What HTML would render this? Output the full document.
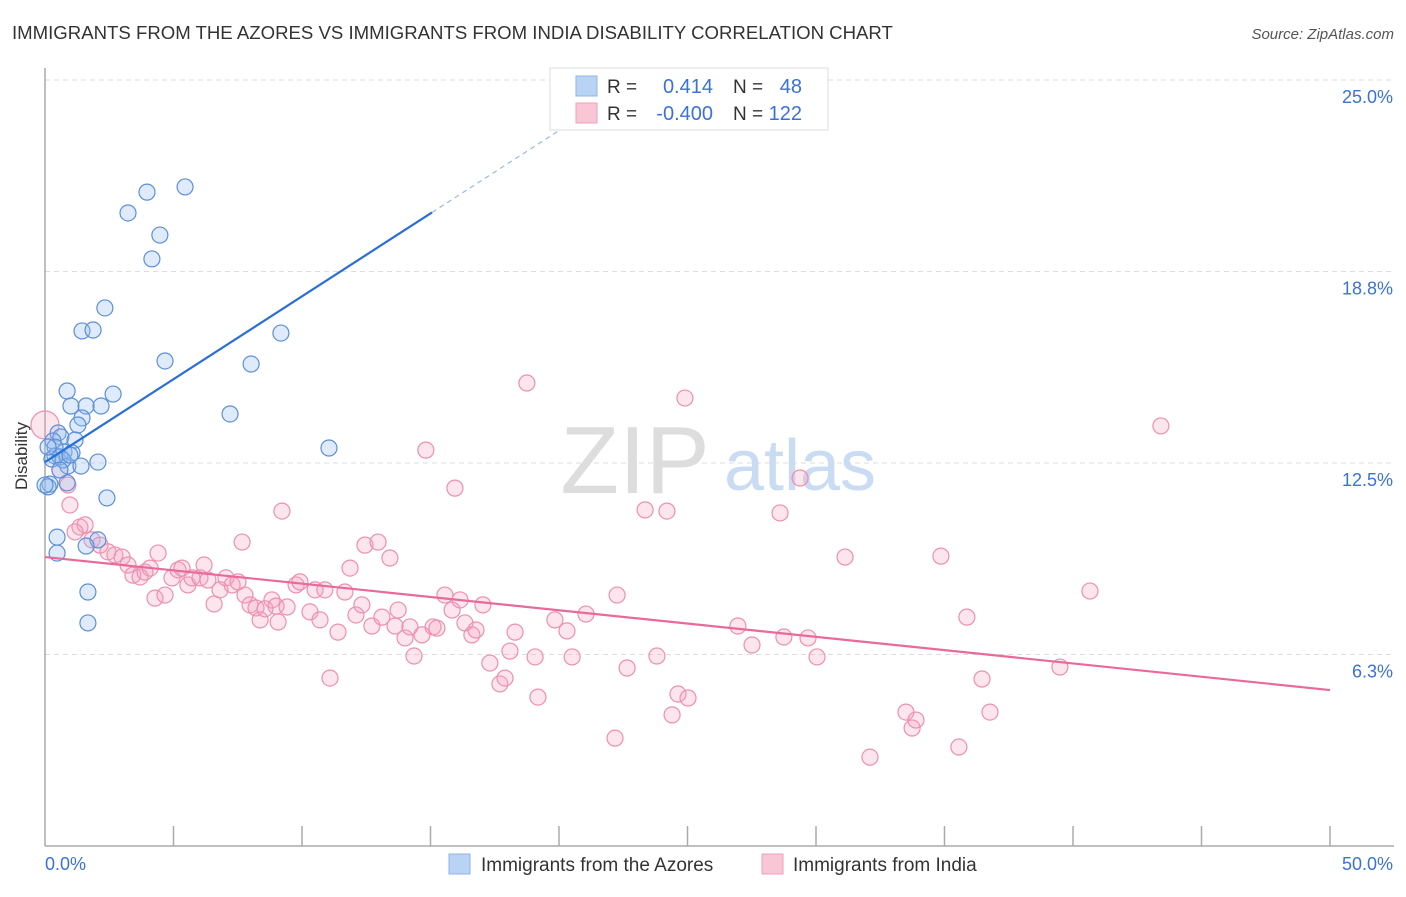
<!DOCTYPE html>
<html><head><meta charset="utf-8"><style>
body{margin:0;background:#fff;font-family:"Liberation Sans",sans-serif;}
svg text{font-family:"Liberation Sans",sans-serif;}
</style></head><body>
<svg id="chart" width="1406" height="892" viewBox="0 0 1406 892">
<text x="12" y="39" font-size="18.6" fill="#333">IMMIGRANTS FROM THE AZORES VS IMMIGRANTS FROM INDIA DISABILITY CORRELATION CHART</text>
<text x="1394" y="39" font-size="15" fill="#555" font-style="italic" text-anchor="end">Source: ZipAtlas.com</text>
<g id="grid"></g>
<text x="635" y="493" font-size="96" fill="#ddd" font-family="Liberation Serif" text-anchor="middle">ZIP</text>
<text x="800" y="490" font-size="72" fill="#c9dcf3" text-anchor="middle">atlas</text>
<g id="axes"></g>
<g id="pink"></g>
<g id="blue"></g>
<g id="lines"></g>
<text x="27" y="456" font-size="17" fill="#333" text-anchor="middle" transform="rotate(-90 27 456)">Disability</text>
<g>
<rect x="550" y="68" width="278" height="62" fill="#fff" stroke="#ddd"/>
<rect x="576" y="76" width="21" height="20" fill="#b9d3f5" stroke="#8fb3e8"/>
<rect x="576" y="103" width="21" height="20" fill="#f9c6d6" stroke="#f0a0bb"/>
<text x="607" y="93" font-size="19" fill="#333">R =</text>
<text x="713" y="93" font-size="20" fill="#3a72d8" text-anchor="end">0.414</text>
<text x="733" y="93" font-size="19" fill="#333">N =</text>
<text x="802" y="93" font-size="20" fill="#3a72d8" text-anchor="end">48</text>
<text x="607" y="120" font-size="19" fill="#333">R =</text>
<text x="713" y="120" font-size="20" fill="#3a72d8" text-anchor="end">-0.400</text>
<text x="733" y="120" font-size="19" fill="#333">N =</text>
<text x="802" y="120" font-size="20" fill="#3a72d8" text-anchor="end">122</text>
</g>
<g>
<rect x="449" y="854" width="21" height="20" fill="#b9d3f5" stroke="#8fb3e8"/>
<text x="481" y="871" font-size="19" fill="#333">Immigrants from the Azores</text>
<rect x="762" y="854" width="21" height="20" fill="#f9c6d6" stroke="#f0a0bb"/>
<text x="793" y="871" font-size="19" fill="#333">Immigrants from India</text>
</g>
</svg>
<script>
const xTickLabels = ["0.0%", "50.0%"];
const yTicks = [6.25, 12.5, 18.75, 25];
const yTickLabels = ["6.3%", "12.5%", "18.8%", "25.0%"];
const blueX = [5.45,3.97,3.23,4.47,4.16,2.33,1.44,1.87,9.18,4.67,8.02,0.86,2.65,1.01,1.60,2.18,7.20,1.44,1.28,0.51,0.62,1.17,0.31,0.74,1.05,0.39,0.58,0.89,1.40,2.06,11.05,0.19,0.12,0.86,2.41,0.47,2.06,1.60,0.47,1.67,1.67,0.27,0.70,0.39,0,0.12,0.97,0.58];
const blueY = [21.51,21.34,20.66,19.94,19.16,17.56,16.81,16.84,16.74,15.83,15.73,14.85,14.75,14.36,14.36,14.36,14.10,13.97,13.74,13.48,13.35,13.25,13.22,12.86,12.83,12.73,12.70,12.40,12.40,12.53,12.99,11.81,11.72,11.85,11.36,10.08,9.99,9.79,9.56,8.29,7.28,12.63,12.60,13.02,11.78,13.02,12.76,12.27];
const pinkX = [0,0.58,0.89,0.97,1.36,1.56,1.17,1.83,2.14,2.45,2.72,3.00,3.23,3.42,3.70,3.89,4.09,4.28,4.40,4.67,4.94,5.18,5.33,5.56,5.72,6.03,6.19,6.34,6.58,6.81,7.04,7.28,7.51,7.67,7.78,7.98,8.21,8.37,8.56,8.83,8.99,9.07,9.22,9.42,9.77,9.92,10.31,10.51,10.70,10.89,11.09,11.40,11.67,11.87,12.10,12.33,12.45,12.72,12.96,13.11,13.42,13.62,13.74,14.01,14.20,14.36,14.67,14.82,15.10,15.25,15.56,15.84,15.95,16.15,16.34,16.61,16.77,17.04,17.31,17.70,17.90,18.09,18.29,18.75,19.07,19.18,19.84,20.31,20.51,21.05,22.18,22.26,22.65,23.35,23.81,24.20,24.40,24.63,24.90,25.02,26.96,27.51,28.60,28.75,29.38,29.69,30.04,31.13,32.10,33.50,33.74,33.89,34.86,35.56,35.87,36.46,36.77,39.49,40.66,43.42];
const pinkY = [13.74,12.27,11.78,11.13,10.41,10.48,10.25,9.99,9.82,9.60,9.50,9.43,9.17,8.84,8.78,8.94,9.07,8.09,9.56,8.19,8.75,9.01,9.07,8.52,8.75,8.75,9.17,8.68,7.90,8.36,8.75,8.52,8.62,9.92,8.19,7.87,7.77,7.38,7.74,8.03,7.83,7.31,10.93,7.80,8.52,8.62,7.64,8.36,7.38,8.36,5.48,6.98,8.29,9.07,7.54,7.87,9.82,7.18,9.92,7.47,9.40,7.18,7.70,6.79,7.15,6.20,6.89,12.92,7.15,7.11,8.19,7.70,11.68,8.03,7.28,6.89,7.05,7.87,5.97,5.29,5.48,6.36,6.98,15.11,6.17,4.86,7.38,7.02,6.17,7.57,3.52,8.19,5.81,10.97,6.20,10.93,4.28,4.96,14.62,4.83,7.18,6.56,10.87,6.82,12.01,6.79,6.17,9.43,2.90,4.37,3.85,4.11,9.46,3.23,7.47,5.45,4.37,5.84,8.32,13.71];
const blueTrend = [12.53, 0.541];
const pinkTrend = [9.43, -0.0868];

const X0=45, X1=1330, Y0=846, YT=80;
const xs = v => X0 + v/50*(X1-X0);
const ys = v => Y0 - v/25*(Y0-YT);
const NS="http://www.w3.org/2000/svg";
function mk(tag, attrs, parent){const e=document.createElementNS(NS,tag);for(const k in attrs)e.setAttribute(k,attrs[k]);parent.appendChild(e);return e;}

const grid=document.getElementById('grid');
yTicks.forEach((t,i)=>{
  const y=ys(t);
  const l=mk('line',{x1:X0,x2:1394,y1:y,y2:y,stroke:'#ddd','stroke-dasharray':'5,4'},grid);
  
  
  const tx=mk('text',{x:1393,y:y+23,'font-size':18,fill:'#3a72d8','text-anchor':'end'},grid);
  tx.textContent=yTickLabels[i];
  
  
});
const axes=document.getElementById('axes');
mk('line',{x1:X0,x2:X0,y1:68,y2:Y0,stroke:'#aaa','stroke-width':1.5},axes);
mk('line',{x1:X0,x2:1394,y1:Y0,y2:Y0,stroke:'#aaa','stroke-width':1.5},axes);
for(let i=1;i<=10;i++){
  const x=xs(i*5);
  const t=mk('line',{x1:x,x2:x,y1:826,y2:Y0,stroke:'#aaa','stroke-width':1.5},axes);
  
  
}
const xl0=mk('text',{x:45,y:870,'font-size':18,fill:'#3a72d8'},axes);
xl0.textContent=xTickLabels[0];


const xl1=mk('text',{x:1393,y:870,'font-size':18,fill:'#3a72d8','text-anchor':'end'},axes);
xl1.textContent=xTickLabels[1];



const pg=document.getElementById('pink');
pinkX.forEach((v,i)=>{
  const c=mk('circle',{cx:xs(v),cy:ys(pinkY[i]),r:i===0?14:8,fill:'rgba(246,160,190,0.28)',stroke:'#ee8fb0','stroke-width':1.2},pg);
  
  
});
const bg=document.getElementById('blue');
blueX.forEach((v,i)=>{
  const c=mk('circle',{cx:xs(v),cy:ys(blueY[i]),r:8,fill:'rgba(150,190,240,0.3)',stroke:'#5b8fd8','stroke-width':1.2},bg);
  
  
});
const lg=document.getElementById('lines');
const bl=mk('line',{x1:xs(0),y1:ys(blueTrend[0]),x2:xs(15.06),y2:ys(blueTrend[0]+blueTrend[1]*15.06),stroke:'#2a6fd6','stroke-width':2.2},lg);


const bd=mk('line',{x1:xs(15.06),y1:ys(blueTrend[0]+blueTrend[1]*15.06),x2:xs(20.8),y2:ys(blueTrend[0]+blueTrend[1]*20.8),stroke:'#9bb8e6','stroke-width':1.2,'stroke-dasharray':'5,4'},lg);


const pl=mk('line',{x1:xs(0),y1:ys(pinkTrend[0]),x2:xs(50),y2:ys(pinkTrend[0]+pinkTrend[1]*50),stroke:'#e8699a','stroke-width':2.2},lg);


</script>
</body></html>
